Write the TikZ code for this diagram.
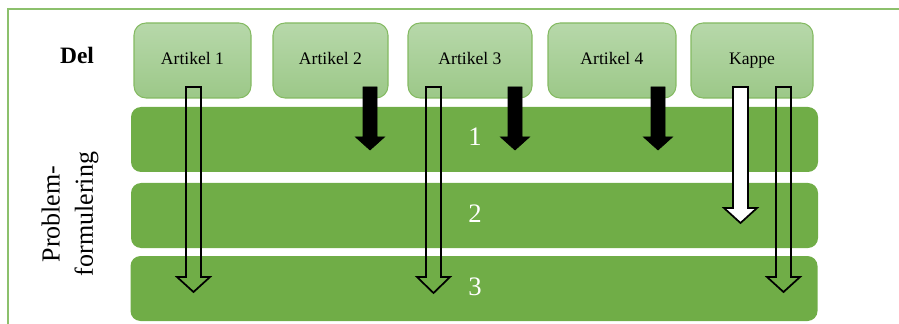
\documentclass[tikz,border=0pt]{standalone}
\usepackage{fontspec}
\setmainfont{Liberation Serif}
\definecolor{band}{HTML}{70AD47}
\definecolor{boxtop}{HTML}{B7D8AA}
\definecolor{boxbot}{HTML}{9CC888}
\definecolor{boxline}{HTML}{84BA62}
\definecolor{frame}{HTML}{8CC06C}
\newcommand\blkarrow[7]{% style, cx, top, headbase, tip, shaft half, head half
  \draw[#1] (#2-#6,#3) -- (#2+#6,#3) -- (#2+#6,#4) -- (#2+#7,#4) -- (#2,#5)
    -- (#2-#7,#4) -- (#2-#6,#4) -- cycle;}
\begin{document}
\begin{tikzpicture}[x=0.75pt,y=-0.75pt,
  part/.style={draw=boxline,line width=0.8pt,top color=boxtop,bottom color=boxbot,
    rounded corners=9pt,minimum height=75*0.75pt},
  partlabel/.style={anchor=base,font=\fontsize{13.2}{15}\selectfont,text=black},
  bandbox/.style={fill=band,rounded corners=7.5pt,minimum width=687*0.75pt,minimum height=65*0.75pt},
  bandlabel/.style={text=white,font=\fontsize{20}{22}\selectfont},
  openarrow/.style={draw=black,line width=1.3pt,line join=miter},
  whitearrow/.style={draw=black,fill=white,line width=1.3pt,line join=miter},
  blackarrow/.style={fill=black,draw=black,line width=0.5pt}]
\useasboundingbox (0,0) rectangle (899,324);
\draw[frame,line width=1.5pt] (8,340) -- (8,9) -- (920,9);
% label texts
\node[font=\fontsize{17.6}{20}\selectfont\bfseries] (del) at (77,55) {Del};
\node[rotate=90,align=center,font=\fontsize{19.5}{25}\selectfont] (pf) at (70,214) {Problem-\\formulering};
% top boxes
\node[part,minimum width=117*0.75pt] (a1) at (192.5,60.5) {};
\node[part,minimum width=115*0.75pt] (a2) at (330.5,60.5) {};
\node[part,minimum width=124*0.75pt] (a3) at (470,60.5) {};
\node[part,minimum width=128*0.75pt] (a4) at (612,60.5) {};
\node[part,minimum width=122*0.75pt] (kp) at (752,60.5) {};
\node[partlabel] (t1) at (192.5,65) {Artikel 1};
\node[partlabel] (t2) at (330.5,65) {Artikel 2};
\node[partlabel] (t3) at (470,65) {Artikel 3};
\node[partlabel] (t4) at (612,65) {Artikel 4};
\node[partlabel] (t5) at (752,65) {Kappe};
% bands
\node[bandbox] (b1) at (474.5,139.5) {};
\node[bandbox] (b2) at (474.5,215.5) {};
\node[bandbox] (b3) at (474,288.5) {};
\node[bandlabel] (n1) at (475,137) {1};
\node[bandlabel] (n2) at (475,214) {2};
\node[bandlabel] (n3) at (475,287) {3};
% arrows
\blkarrow{openarrow}{193.5}{87}{277}{292}{7.5}{16.5}
\blkarrow{blackarrow}{370}{87}{137}{150}{7}{14.5}
\blkarrow{openarrow}{433.5}{87}{277}{293}{7.5}{16.5}
\blkarrow{blackarrow}{515}{87}{137}{150}{7}{14.5}
\blkarrow{blackarrow}{658}{87}{137}{150}{7}{14.5}
\blkarrow{whitearrow}{740.5}{87}{208}{223}{7.5}{16.5}
\blkarrow{openarrow}{783.5}{87}{277}{292}{7.5}{16.5}
\end{tikzpicture}
\end{document}
